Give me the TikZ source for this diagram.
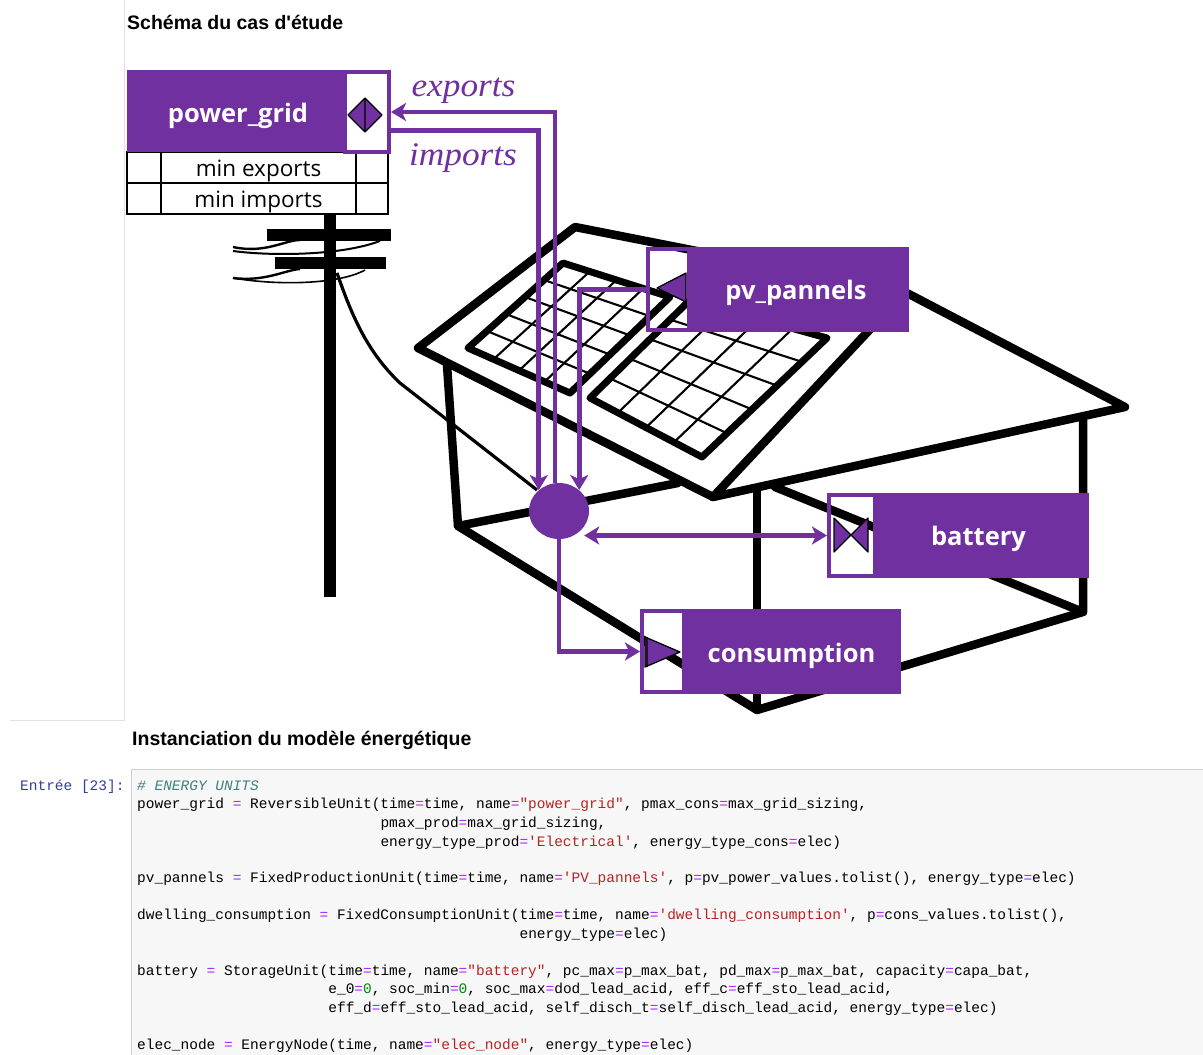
\documentclass[tikz,border=0pt]{standalone}
\usepackage{fontspec}
\usetikzlibrary{arrows.meta,shapes.geometric}
\setmainfont{Liberation Sans}
\setmonofont{Liberation Mono}
\newfontfamily\osans{Open Sans}
\newfontfamily\hsans{Liberation Sans}
\newfontfamily\rserif{Liberation Serif}
\definecolor{purp}{HTML}{7030A0}
\definecolor{codebg}{HTML}{F7F7F7}
\definecolor{codeln}{HTML}{CFCFCF}
\definecolor{oper}{HTML}{AA22FF}
\definecolor{strc}{HTML}{BA2121}
\definecolor{numc}{HTML}{008800}
\definecolor{comc}{HTML}{408080}
\definecolor{promptc}{HTML}{303F9F}
\newcommand{\cop}{\textcolor{oper}{=}}
\newcommand{\cstr}[1]{\textcolor{strc}{#1}}
\newcommand{\cnum}[1]{\textcolor{numc}{#1}}
\newcommand{\low}[2]{\raisebox{-#1pt}[0pt][0pt]{#2}}
\tikzset{
  bk/.style={draw=black,line width=8.5,line join=round,line cap=round},
  grd/.style={draw=black,line width=2.1},
  pan/.style={draw=black,line width=7,line join=round},
  frm/.style={draw=purp,line width=4,inner sep=0},
  lbl/.style={fill=purp,text=white,inner sep=0,font=\osans\bfseries\fontsize{25.5}{30}\selectfont},
  cell/.style={draw=black,line width=2,inner sep=0,font=\osans\fontsize{22.5}{26}\selectfont},
  flow/.style={draw=purp,line width=4.6},
  glyph/.style={fill=purp,draw=black,line width=1.3,line join=round},
  cd/.style={anchor=base west,inner sep=0,font=\ttfamily\fontsize{14.48}{17}\selectfont},
  head/.style={anchor=base west,inner sep=0,font=\hsans\bfseries\fontsize{19.5}{22}\selectfont},
  flab/.style={text=purp,inner sep=0,font=\rserif\itshape\fontsize{33}{36}\selectfont}
}
\begin{document}
\begin{tikzpicture}[x=1pt,y=-1pt]
\useasboundingbox (0,0) rectangle (1203,1055);
\fill[white] (0,0) rectangle (1203,1055);
% page rules
\draw[codeln!60,line width=1] (124,0) -- (124,720) -- (10,720);
\node[head] (title1) at (127,29) {Schéma du cas d'étude};
\node[head] (title2) at (132,745) {Instanciation du modèle énergétique};
% pole
\draw[black,line width=12] (330,214) -- (330,597);
\fill[black] (267,229) rectangle (391,241);
\fill[black] (275,257) rectangle (386,269);
\draw[black,line width=2.4] (233,247) .. controls (265,254) and (285,240) .. (300,240);
\draw[black,line width=2] (233,251) .. controls (270,256) and (340,256) .. (380,241);
\draw[black,line width=2.4] (233,278) .. controls (265,282) and (285,270) .. (300,269);
\draw[black,line width=1.6] (233,278) .. controls (280,286) and (340,284) .. (365,270);
\draw[black,line width=3.2] (337,273) .. controls (350,310) and (365,350) .. (400,383) -- (537,490);
% house
\draw[bk] (418,348) -- (575,227) -- (905,292) -- (1125,407) -- (713,497) -- cycle;
\draw[bk] (713,497) -- (905,292);
\draw[bk] (447,365) -- (458,526) -- (757,710) -- (1083,612) -- (1083,420);
\draw[bk] (458,526) -- (678,483);
\draw[bk] (757,490) -- (757,710);
\draw[bk] (775,487) -- (1083,612);
% left panel
\foreach \t in {0.25,0.5,0.75}
  \draw[grd] ({468+\t*(570-468)},{348+\t*(393-348)}) -- ({563+\t*(670-563)},{263+\t*(297-263)});
\foreach \t in {0.2,0.4,0.6,0.8}
  \draw[grd] ({468+\t*(563-468)},{348+\t*(263-348)}) -- ({570+\t*(670-570)},{393+\t*(297-393)});
\draw[pan] (468,348) -- (563,263) -- (670,297) -- (570,393) -- cycle;
% right panel
\foreach \t in {0.25,0.5,0.75}
  \draw[grd] ({590+\t*(702-590)},{398+\t*(457-398)}) -- ({690+\t*(827-690)},{300+\t*(338-300)});
\foreach \t in {0.2,0.4,0.6,0.8}
  \draw[grd] ({590+\t*(690-590)},{398+\t*(300-398)}) -- ({702+\t*(827-702)},{457+\t*(338-457)});
\draw[pan] (590,398) -- (690,300) -- (827,338) -- (702,457) -- cycle;
% table
\node[cell,minimum width=34,minimum height=31] (ta) at (144,167.5) {};
\node[cell,minimum width=195,minimum height=31] (tb) at (258.5,167.5) {\low{8.5}{min exports}};
\node[cell,minimum width=32,minimum height=31] (tc) at (372,167.5) {};
\node[cell,minimum width=34,minimum height=31] (td) at (144,198.5) {};
\node[cell,minimum width=195,minimum height=31] (te) at (258.5,198.5) {\low{8.5}{min imports}};
\node[cell,minimum width=32,minimum height=31] (tf) at (372,198.5) {};
% unit frames
\node[frm,minimum width=44,minimum height=80] (pgp) at (367,112) {};
\node[frm,minimum width=42,minimum height=81] (pvp) at (669,289.5) {};
\node[frm,minimum width=46,minimum height=81] (bap) at (852,535.5) {};
\node[frm,minimum width=42,minimum height=81] (cop) at (663,651.5) {};
% unit labels
\node[lbl,minimum width=220,minimum height=82] (pgl) at (237,111) {\low{11}{\hspace{2pt}power\_grid}};
\node[lbl,minimum width=222,minimum height=85] (pvl) at (798,289.5) {\low{9.5}{\hspace{-4pt}pv\_pannels}};
\node[lbl,minimum width=216,minimum height=85] (bal) at (981,535.5) {\low{10}{\hspace{-5pt}battery}};
\node[lbl,minimum width=219,minimum height=85] (col) at (791.5,651.5) {\low{10.5}{consumption}};
% port glyphs
\draw[glyph] (348,115) -- (365,98) -- (382,115) -- (365,132) -- cycle (365,98) -- (365,132);
\draw[glyph] (657,288) -- (686,273) -- (686,302) -- cycle;
\draw[glyph] (834,518) -- (868,552) -- (868,518) -- (834,552) -- cycle;
\draw[glyph] (645,637) -- (680,652) -- (645,667) -- cycle (647,637) -- (647,667);
% node and flows
\node[ellipse,fill=purp,inner sep=0,minimum width=60,minimum height=56] (elec) at (559,511) {};
\draw[flow,-{Stealth[length=15pt,width=18pt,inset=4pt]}] (pgp.-38.4) -| (elec.134);
\draw[flow,-{Stealth[length=15pt,width=18pt,inset=4pt]}] (elec.98) |- (pgp.east);
\draw[flow,-{Stealth[length=15pt,width=18pt,inset=4pt]}] (pvp.west) -| (elec.46);
\draw[flow,-{Stealth[length=15pt,width=18pt,inset=4pt]}] (elec.south) |- (cop.west);
\draw[flow,{Stealth[length=15pt,width=18pt,inset=4pt]}-{Stealth[length=15pt,width=18pt,inset=4pt]},shorten <=-5pt] (bap.west -| elec.east) -- (bap.west);
\node[flab] (lexp) at (463.5,91) {\scalebox{1.07}[1]{exports}};
\node[flab] (limp) at (463,158) {\scalebox{1.07}[1]{imports}};
% code block
\node[draw=codeln,fill=codebg,line width=1,inner sep=0,anchor=north west,minimum width=1080,minimum height=290] (codebox) at (131,769) {};
\node[cd,text=promptc] (prompt) at (20,790) {Entrée [23]:};
\node[cd,text=comc,font=\ttfamily\itshape\fontsize{14.48}{17}\selectfont] (c01) at (137,790) {\# ENERGY UNITS};
\node[cd] (c02) at (137,808.5) {power\_grid \cop{} ReversibleUnit(time\cop{}time, name\cop{}\cstr{"power\_grid"}, pmax\_cons\cop{}max\_grid\_sizing,};
\node[cd] (c03) at (380.3,827) {pmax\_prod\cop{}max\_grid\_sizing,};
\node[cd] (c04) at (380.3,846) {energy\_type\_prod\cop{}\cstr{'Electrical'}, energy\_type\_cons\cop{}elec)};
\node[cd] (c05) at (137,882) {pv\_pannels \cop{} FixedProductionUnit(time\cop{}time, name\cop{}\cstr{'PV\_pannels'}, p\cop{}pv\_power\_values.tolist(), energy\_type\cop{}elec)};
\node[cd] (c06) at (137,919) {dwelling\_consumption \cop{} FixedConsumptionUnit(time\cop{}time, name\cop{}\cstr{'dwelling\_consumption'}, p\cop{}cons\_values.tolist(),};
\node[cd] (c07) at (519.4,938) {energy\_type\cop{}elec)};
\node[cd] (c08) at (137,975) {battery \cop{} StorageUnit(time\cop{}time, name\cop{}\cstr{"battery"}, pc\_max\cop{}p\_max\_bat, pd\_max\cop{}p\_max\_bat, capacity\cop{}capa\_bat,};
\node[cd] (c09) at (328.2,993) {e\_0\cop{}\cnum{0}, soc\_min\cop{}\cnum{0}, soc\_max\cop{}dod\_lead\_acid, eff\_c\cop{}eff\_sto\_lead\_acid,};
\node[cd] (c10) at (328.2,1012) {eff\_d\cop{}eff\_sto\_lead\_acid, self\_disch\_t\cop{}self\_disch\_lead\_acid, energy\_type\cop{}elec)};
\node[cd] (c11) at (137,1049) {elec\_node \cop{} EnergyNode(time, name\cop{}\cstr{"elec\_node"}, energy\_type\cop{}elec)};
\end{tikzpicture}
\end{document}
